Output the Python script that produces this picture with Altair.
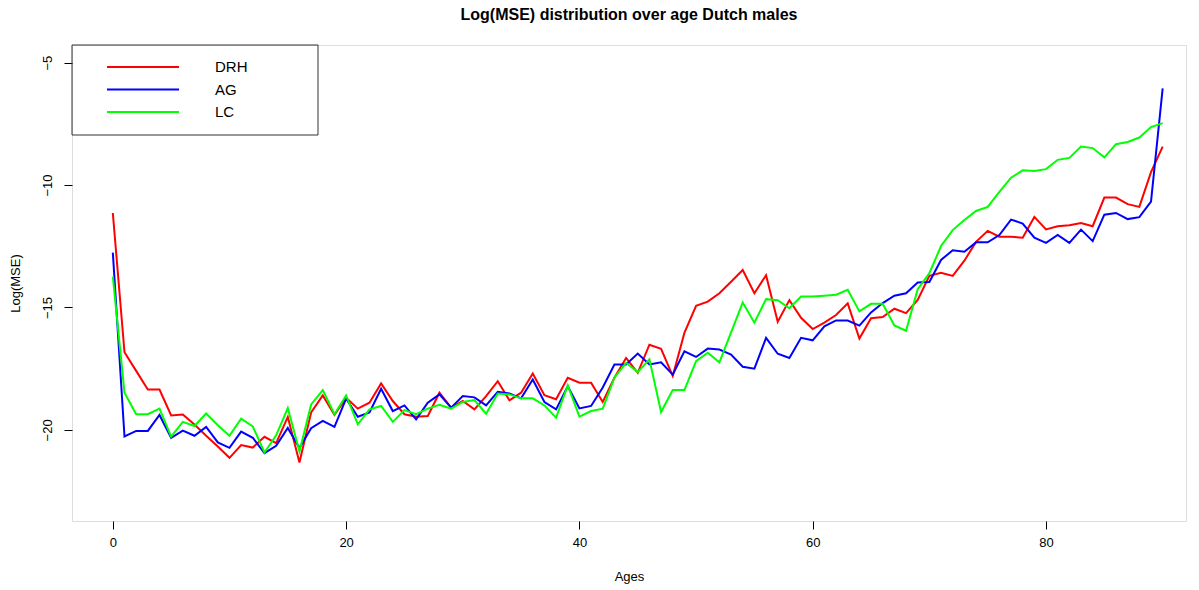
import altair as alt
import pandas as pd

ages = list(range(91))

drh = [-11.14, -16.83, -17.59, -18.35, -18.35, -19.41, -19.37, -19.78, -20.24, -20.68,
       -21.14, -20.62, -20.72, -20.28, -20.54, -19.47, -21.33, -19.29, -18.59, -19.39,
       -18.69, -19.13, -18.89, -18.10, -18.82, -19.36, -19.46, -19.43, -18.48, -19.09,
       -18.82, -19.16, -18.62, -18.01, -18.79, -18.48, -17.70, -18.58, -18.75, -17.87,
       -18.07, -18.07, -18.86, -17.87, -17.06, -17.67, -16.52, -16.69, -17.80, -16.04,
       -14.93, -14.76, -14.42, -13.95, -13.47, -14.42, -13.68, -15.58, -14.70, -15.42,
       -15.88, -15.62, -15.31, -14.83, -16.27, -15.44, -15.39, -15.05, -15.23, -14.69,
       -13.71, -13.58, -13.71, -13.09, -12.32, -11.87, -12.11, -12.11, -12.15, -11.30,
       -11.81, -11.68, -11.64, -11.55, -11.68, -10.51, -10.51, -10.78, -10.89, -9.47,
       -8.43]

ag = [-12.76, -20.27, -20.04, -20.04, -19.39, -20.32, -20.03, -20.24, -19.88, -20.51,
      -20.73, -20.07, -20.32, -20.95, -20.65, -19.92, -20.74, -19.93, -19.63, -19.88,
      -18.72, -19.46, -19.29, -18.32, -19.23, -19.00, -19.57, -18.89, -18.55, -19.09,
      -18.62, -18.67, -19.00, -18.44, -18.51, -18.71, -17.94, -18.86, -19.16, -18.21,
      -19.12, -19.02, -18.27, -17.33, -17.33, -16.88, -17.33, -17.24, -17.74, -16.79,
      -17.02, -16.68, -16.72, -16.92, -17.42, -17.50, -16.24, -16.89, -17.06, -16.24,
      -16.34, -15.77, -15.53, -15.53, -15.74, -15.20, -14.82, -14.52, -14.42, -13.98,
      -13.96, -13.06, -12.66, -12.72, -12.34, -12.34, -12.04, -11.41, -11.57, -12.15,
      -12.36, -12.04, -12.36, -11.82, -12.29, -11.21, -11.14, -11.39, -11.31, -10.68,
      -6.05]

lc = [-13.74, -18.48, -19.36, -19.36, -19.13, -20.27, -19.67, -19.84, -19.33, -19.81,
      -20.24, -19.54, -19.86, -20.92, -20.22, -19.11, -20.88, -18.96, -18.37, -19.36,
      -18.59, -19.77, -19.16, -19.02, -19.67, -19.19, -19.36, -19.13, -18.97, -19.13,
      -18.86, -18.78, -19.34, -18.51, -18.55, -18.71, -18.71, -19.00, -19.50, -18.18,
      -19.46, -19.23, -19.13, -17.87, -17.26, -17.64, -17.12, -19.27, -18.37, -18.37,
      -17.19, -16.85, -17.24, -16.02, -14.80, -15.62, -14.66, -14.70, -15.03, -14.55,
      -14.55, -14.52, -14.48, -14.28, -15.16, -14.85, -14.85, -15.73, -15.95, -14.25,
      -13.60, -12.49, -11.84, -11.43, -11.06, -10.89, -10.28, -9.70, -9.40, -9.43,
      -9.35, -8.97, -8.89, -8.43, -8.49, -8.87, -8.33, -8.24, -8.06, -7.63,
      -7.47]

series_names = ["DRH", "AG", "LC"]
series_colors = ["#FF0000", "#0000FF", "#00FF00"]
x_ticks = [0, 20, 40, 60, 80]
y_ticks = [-5, -10, -15, -20]

rows = []
for name, vals in zip(series_names, [drh, ag, lc]):
    for a, v in zip(ages, vals):
        rows.append({"age": a, "value": v, "model": name})
df = pd.DataFrame(rows)

W, H = 1114, 476
FONT = "Liberation Sans"

lines = alt.Chart(df).mark_line(strokeWidth=2, clip=True).encode(
    x=alt.X("age:Q",
            scale=alt.Scale(domain=[-3.5, 92], nice=False, zero=False),
            axis=alt.Axis(values=x_ticks, title="Ages", format="d", domain=False, grid=False,
                          tickSize=8, tickColor="black", labelPadding=7, titlePadding=21,
                          labelFontSize=13, titleFontSize=13, titleFontWeight="normal",
                          labelColor="black", titleColor="black",
                          labelFont=FONT, titleFont=FONT)),
    y=alt.Y("value:Q",
            scale=alt.Scale(domain=[-23.72, -4.28], nice=False, zero=False),
            axis=alt.Axis(values=y_ticks, title="Log(MSE)", format="d", domain=False, grid=False,
                          tickSize=8, tickColor="black", labelPadding=10, titlePadding=19,
                          labelAngle=270, labelAlign="center", labelBaseline="bottom",
                          labelFontSize=13, titleFontSize=13, titleFontWeight="normal",
                          labelColor="black", titleColor="black",
                          labelFont=FONT, titleFont=FONT)),
    color=alt.Color("model:N",
                    scale=alt.Scale(domain=series_names, range=series_colors),
                    sort=series_names,
                    legend=alt.Legend(title=None, orient="none", legendX=34, legendY=12,
                                      symbolType="stroke", symbolSize=5184, symbolStrokeWidth=2,
                                      clipHeight=20, rowPadding=2.5, labelOffset=35,
                                      labelFontSize=15, labelFont=FONT, labelColor="black",
                                      padding=0)),
)

legend_box = alt.Chart(pd.DataFrame({"k": [0]})).mark_rect(
    fillOpacity=0, stroke="#333333", strokeWidth=1
).encode(
    x=alt.value(0), x2=alt.value(246), y=alt.value(0), y2=alt.value(90)
)

chart = alt.layer(legend_box, lines).properties(
    width=W, height=H,
    title=alt.TitleParams("Log(MSE) distribution over age Dutch males", font=FONT, fontSize=16,
                          fontWeight="bold", anchor="middle", offset=22, color="black"),
    autosize=alt.AutoSizeParams(type="none"),
    padding={"left": 72, "top": 45, "right": 13, "bottom": 69},
).configure_view(stroke="#333333", strokeWidth=1).configure(background="white")

chart.save("out.html", embed_options={"renderer": "svg", "actions": False})
